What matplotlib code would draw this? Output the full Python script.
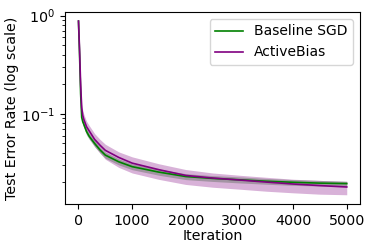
import matplotlib
matplotlib.use("Agg")
import matplotlib.pyplot as plt

iterations = [0, 20, 40, 60, 80, 100, 150, 200, 300, 400, 500, 750, 1000,
              1500, 2000, 2500, 3000, 3500, 4000, 4500, 5000]

sgd_mean = [0.88, 0.40, 0.16, 0.092, 0.083, 0.078, 0.066, 0.059, 0.050, 0.043,
            0.038, 0.0325, 0.0290, 0.0255, 0.0230, 0.0220, 0.0213, 0.0206,
            0.0201, 0.0197, 0.0195]
sgd_low = [0.86, 0.38, 0.15, 0.086, 0.077, 0.072, 0.061, 0.055, 0.0465, 0.040,
           0.0353, 0.0302, 0.0270, 0.0237, 0.0214, 0.0205, 0.0198, 0.0192,
           0.0187, 0.0184, 0.0183]
sgd_high = [0.90, 0.42, 0.17, 0.098, 0.089, 0.083, 0.071, 0.063, 0.0535, 0.046,
            0.0407, 0.0348, 0.0310, 0.0273, 0.0246, 0.0235, 0.0228, 0.0220,
            0.0214, 0.0210, 0.0206]

ab_mean = [0.88, 0.45, 0.20, 0.115, 0.096, 0.0875, 0.074, 0.067, 0.055, 0.048,
           0.0425, 0.036, 0.0315, 0.0270, 0.0236, 0.0222, 0.0212, 0.0202,
           0.0193, 0.0186, 0.0180]
ab_low = [0.86, 0.42, 0.18, 0.100, 0.084, 0.077, 0.064, 0.057, 0.0465, 0.040,
          0.0345, 0.0285, 0.0250, 0.0215, 0.0191, 0.0179, 0.0171, 0.0163,
          0.0157, 0.0152, 0.0150]
ab_high = [0.90, 0.48, 0.22, 0.128, 0.108, 0.099, 0.084, 0.076, 0.0630, 0.055,
           0.0490, 0.041, 0.0365, 0.0310, 0.0271, 0.0250, 0.0237, 0.0226,
           0.0216, 0.0210, 0.0205]

fig = plt.figure(figsize=(3.74, 2.49), dpi=100)
ax = fig.add_axes([0.174, 0.181, 0.789, 0.771])

ax.fill_between(iterations, ab_low, ab_high, color="purple", alpha=0.3, linewidth=0)
ax.fill_between(iterations, sgd_low, sgd_high, color="gray", alpha=0.6, linewidth=0)
ax.plot(iterations, sgd_mean, color="green", linewidth=1.2, label="Baseline SGD")
ax.plot(iterations, ab_mean, color="purple", linewidth=1.2, label="ActiveBias")

ax.set_yscale("log")
ax.set_ylim(0.0121, 1.09)
ax.set_xlim(-250, 5250)
ax.set_xticks([0, 1000, 2000, 3000, 4000, 5000])
ax.set_xlabel("Iteration", fontsize=10.3, labelpad=1)
ax.set_ylabel("Test Error Rate (log scale)", fontsize=10.3, labelpad=2)
ax.tick_params(labelsize=10.3)
ax.legend(loc="upper right", fontsize=10)

fig.savefig("out.png", dpi=100)
